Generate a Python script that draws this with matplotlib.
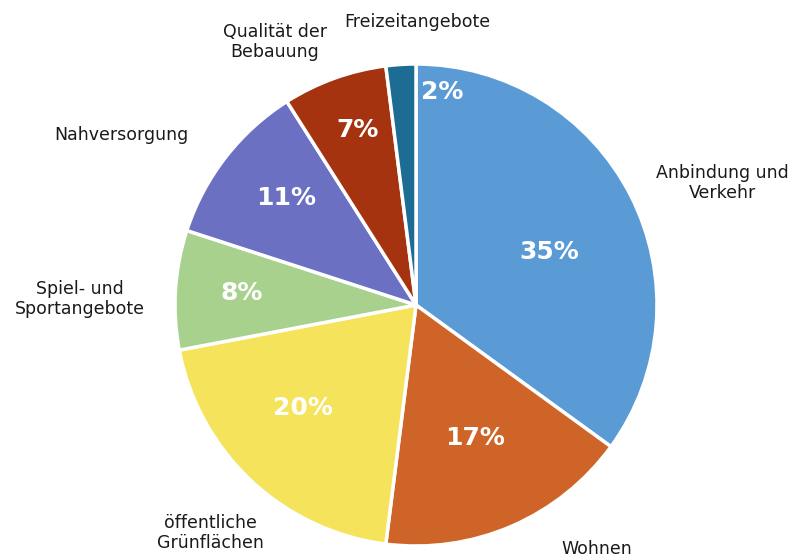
import matplotlib
matplotlib.use("Agg")
import matplotlib.pyplot as plt
import numpy as np

categories = ["Anbindung und\nVerkehr", "Wohnen", "öffentliche\nGrünflächen",
              "Spiel- und\nSportangebote", "Nahversorgung", "Qualität der\nBebauung",
              "Freizeitangebote"]
values = [35, 17, 20, 8, 11, 7, 2]
pct_labels = ["35%", "17%", "20%", "8%", "11%", "7%", "2%"]
colors = ["#5B9BD5", "#CF6428", "#F6E35C", "#A8D18E", "#6B70C2", "#A6330F", "#1D6C93"]

# layout
W, H = 791, 560
cx, cy, R = 416, 255, 241
pct_dist = [0.594, 0.604, 0.634, 0.724, 0.699, 0.766, 0.89]
pct_angle_shift = [-5.3, 0.5, -4.4, -0.3, -1.7, -1.2, -10.6]
label_pos = [(722, 183), (597, 549), (210, 533), (80, 299), (121, 135), (275, 42), (417, 22)]

plt.rcParams['font.family'] = ['DejaVu Sans']
fig = plt.figure(figsize=(W / 100, H / 100), dpi=100)
ax = fig.add_axes([0, 0, 1, 1])

wedges, _ = ax.pie(values, colors=colors, startangle=90, counterclock=False,
                   center=(cx, cy), radius=R,
                   wedgeprops=dict(edgecolor='white', linewidth=2.5))
ax.set_xlim(0, W)
ax.set_ylim(0, H)
ax.set_aspect('equal')
ax.axis('off')

for w, p, d, s in zip(wedges, pct_labels, pct_dist, pct_angle_shift):
    ang = np.deg2rad((w.theta1 + w.theta2) / 2 + s)
    x = cx + R * d * np.cos(ang)
    y = cy + R * d * np.sin(ang)
    ax.text(x, y, p, color='white', fontsize=18, fontweight='bold',
            ha='center', va='center')

for lab, (px, py) in zip(categories, label_pos):
    ax.text(px, H - py, lab, color='#1a1a1a', fontsize=12.5, ha='center', va='center',
            linespacing=1.2)

fig.savefig("out.png", dpi=100)
